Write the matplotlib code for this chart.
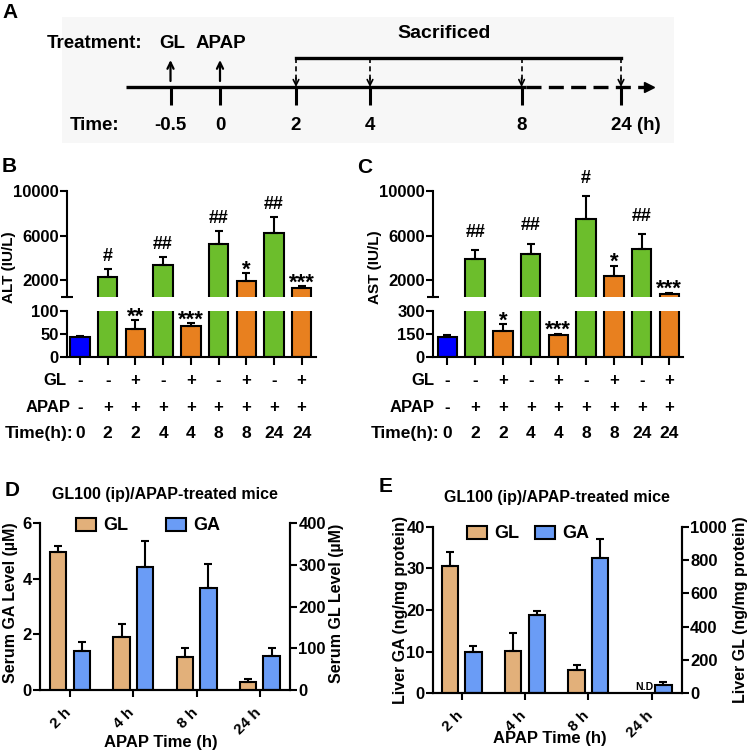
import numpy as np
import matplotlib
matplotlib.use('Agg')
import matplotlib.pyplot as plt
from matplotlib.patches import Rectangle
from matplotlib.transforms import blended_transform_factory, ScaledTranslation

plt.rcParams['font.family'] = ['Liberation Sans', 'DejaVu Sans']
plt.rcParams['font.weight'] = 'bold'
plt.rcParams['axes.labelweight'] = 'bold'
plt.rcParams['axes.titleweight'] = 'bold'
plt.rcParams['axes.linewidth'] = 1.5

# ---------------- data ----------------
timeline_labels = ['-0.5', '0', '2', '4', '8', '24']

groups = ['ctrl', 'apap', 'gl', 'apap', 'gl', 'apap', 'gl', 'apap', 'gl']
gl_signs = ['-', '-', '+', '-', '+', '-', '+', '-', '+']
apap_signs = ['-', '+', '+', '+', '+', '+', '+', '+', '+']
time_labels = ['0', '2', '2', '4', '4', '8', '8', '24', '24']

alt_mean = [42, 2330, 61, 3360, 66, 5260, 1910, 6240, 1320]
alt_err = [2, 710, 19, 710, 8, 1185, 750, 1390, 230]
alt_marks = ['', '#', '**', '##', '***', '##', '*', '##', '***']

ast_mean = [126, 3870, 168, 4340, 140, 7480, 2440, 4840, 790]
ast_err = [17, 830, 43, 950, 10, 2075, 890, 1300, 90]
ast_marks = ['', '##', '*', '##', '***', '#', '*', '##', '***']

level_times = ['2 h', '4 h', '8 h', '24 h']
serum_gl = [330, 128, 78, 18]
serum_gl_err = [16, 30, 22, 9]
serum_ga = [1.40, 4.44, 3.68, 1.24]
serum_ga_err = [0.32, 0.94, 0.84, 0.26]

liver_gl = [766, 254, 140, np.nan]
liver_gl_err = [84, 108, 32, np.nan]
liver_ga = [9.8, 18.8, 32.6, 2.0]
liver_ga_err = [1.5, 1.0, 4.5, 0.7]

# ---------------- styles ----------------
group_color = {'ctrl': '#0000FF', 'apap': '#6CBE2C', 'gl': '#E8801F'}
tan = '#E2B07A'
light_blue = '#6A9CF6'

W, H = 749, 756
fig = plt.figure(figsize=(W / 100, H / 100), dpi=100)


def rect(x0, y0, x1, y1):
    return [x0 / W, 1 - y1 / H, (x1 - x0) / W, (y1 - y0) / H]


def fx(px):
    return px / W


def fy(py):
    return 1 - py / H


def bold_ticks(ax):
    for lbl in ax.get_xticklabels() + ax.get_yticklabels():
        lbl.set_fontweight('bold')


# ---------------- panel A: timeline ----------------
axA = fig.add_axes([0, 0, 1, 1])
axA.set_xlim(0, W)
axA.set_ylim(H, 0)
axA.axis('off')
axA.patch.set_visible(False)
axA.add_patch(Rectangle((62, 17), 612, 126, facecolor='#f7f7f7', edgecolor='none', zorder=0))
tl_pos = [170.5, 220, 296, 370, 521.6, 621]
line_y = 87.3
axA.plot([125.6, 525.5], [line_y, line_y], color='k', lw=2.4, solid_capstyle='butt')
axA.plot([525.5, 644], [line_y, line_y], color='k', lw=2.4, dashes=(4.5, 2.2))
axA.plot([649], [line_y], marker='>', color='k', markersize=7)
for x in tl_pos:
    axA.plot([x, x], [line_y, 105], color='k', lw=2.2, solid_capstyle='butt')
for x, t in zip(tl_pos[:-1], timeline_labels[:-1]):
    axA.text(x, 125, t, ha='center', va='center', fontsize=13.5)
axA.text(611, 125, timeline_labels[-1] + ' (h)', ha='left', va='center', fontsize=13.5)
axA.text(119, 125, 'Time:', ha='right', va='center', fontsize=13.5)
axA.text(94.5, 43, 'Treatment:', ha='center', va='center', fontsize=13.5)
axA.text(172, 43, 'GL', ha='center', va='center', fontsize=13.5)
axA.text(221, 43, 'APAP', ha='center', va='center', fontsize=13.5)
axA.text(444, 33, 'Sacrificed', ha='center', va='center', fontsize=14)
for x in tl_pos[:2]:
    axA.annotate('', xy=(x, 60), xytext=(x, 81),
                 arrowprops=dict(arrowstyle='->,head_length=0.45,head_width=0.22', lw=1.6,
                                 color='k', shrinkA=0, shrinkB=0))
axA.plot([tl_pos[2], tl_pos[-1]], [58.3, 58.3], color='k', lw=2.4, solid_capstyle='projecting')
for x in tl_pos[2:]:
    axA.plot([x, x], [58.3, 80], color='k', lw=1.2, dashes=(3, 2))
    axA.annotate('', xy=(x, 87), xytext=(x, 78),
                 arrowprops=dict(arrowstyle='->,head_length=0.4,head_width=0.2', lw=1.2,
                                 color='k', shrinkA=0, shrinkB=0))

# ---------------- panels B, C: broken-axis bar charts ----------------
colors = [group_color[g] for g in groups]


def enzyme_panel(xl, xr, xlim, means, errs, marks, low_max, low_ticks, ylabel, ylab_x,
                 lab_right, hash_off, star_off):
    n = len(means)
    x = np.arange(n)
    ax_hi = fig.add_axes(rect(xl, 190.7, xr, 297.3))
    ax_lo = fig.add_axes(rect(xl, 310.7, xr, 356.7))
    for ax in (ax_hi, ax_lo):
        ax.bar(x, means, width=0.7, color=colors, edgecolor='k', linewidth=1.5, zorder=2)
        ax.errorbar(x, means, yerr=[np.zeros(n), errs], fmt='none', ecolor='k',
                    elinewidth=1.5, capsize=3, capthick=1.5, zorder=3)
        ax.set_xlim(*xlim)
        ax.spines[['top', 'right']].set_visible(False)
        ax.patch.set_visible(False)
        ax.tick_params(width=1.5, length=5, labelsize=12, pad=1)
    ax_hi.set_ylim(500, 10000)
    ax_hi.spines['bottom'].set_visible(False)
    ax_hi.set_xticks([])
    ax_hi.set_yticks([2000, 6000, 10000])
    ax_hi.set_yticks([500], minor=True)
    ax_hi.tick_params(axis='y', which='minor', direction='inout', length=9, width=1.5)
    ax_lo.set_ylim(0, low_max)
    ax_lo.set_yticks(low_ticks)
    ax_lo.set_xticks(x)
    ax_lo.set_xticklabels([])
    ax_lo.tick_params(axis='x', length=6)
    bold_ticks(ax_hi)
    bold_ticks(ax_lo)

    for xi, m, e, mk in zip(x, means, errs, marks):
        if not mk:
            continue
        top = m + e
        ax = ax_hi if top > low_max else ax_lo
        star = mk.startswith('*')
        ax.annotate(mk, xy=(xi, top), xytext=(0, star_off if star else hash_off),
                    textcoords='offset points', ha='center', va='baseline',
                    fontsize=16 if star else 13, annotation_clip=False)

    ax_hi.set_ylabel(ylabel, fontsize=11)
    ax_hi.yaxis.set_label_coords(fx(ylab_x), fy(267), transform=fig.transFigure)
    ax_hi.yaxis.label.set_va('center')
    ax_hi.yaxis.label.set_ha('center')

    tr = blended_transform_factory(ax_lo.transData, fig.transFigure)
    for xi, g, a, t in zip(x, gl_signs, apap_signs, time_labels):
        ax_lo.text(xi, fy(385), g, transform=tr, ha='center', va='baseline', fontsize=12)
        ax_lo.text(xi, fy(412.3), a, transform=tr, ha='center', va='baseline', fontsize=12)
        ax_lo.text(xi, fy(437.7), t, transform=tr, ha='center', va='baseline', fontsize=12.5)
    fig.text(fx(lab_right[0]), fy(385), 'GL', ha='right', va='baseline', fontsize=12)
    fig.text(fx(lab_right[1]), fy(412.3), 'APAP', ha='right', va='baseline', fontsize=12)
    fig.text(fx(lab_right[2]), fy(437.7), 'Time(h):', ha='right', va='baseline', fontsize=12.5)


enzyme_panel(67, 316, (-0.47, 8.52), alt_mean, alt_err, alt_marks, 100, [0, 50, 100],
             'ALT (IU/L)', 9, (67, 71, 73), 5.8, -2)
enzyme_panel(433, 683, (-0.52, 8.49), ast_mean, ast_err, ast_marks, 300, [0, 150, 300],
             'AST (IU/L)', 375, (435, 435, 439), 9.4, -1.5)

# ---------------- panels D, E: twin-axis bar charts ----------------


def level_panel(xl, xr, yt, yb, xlim, gl, gl_err, ga, ga_err, ga_lim, ga_ticks, gl_lim,
                gl_ticks, ylab_l, ylab_r, ylx_l, ylx_r, yl_y, xlab_xy, col_space, leg_xy,
                nd=False):
    pos = np.arange(len(level_times))
    off, wid = 0.186, 0.26
    ax = fig.add_axes(rect(xl, yt, xr, yb))
    ax2 = ax.twinx()
    b_gl = ax2.bar(pos - off, gl, width=wid, color=tan, edgecolor='k', linewidth=1.5,
                   label='GL', zorder=2)
    ax2.errorbar(pos - off, gl, yerr=[np.zeros(len(gl)), gl_err], fmt='none', ecolor='k',
                 elinewidth=1.5, capsize=3.2, capthick=1.5, zorder=3)
    b_ga = ax.bar(pos + off, ga, width=wid, color=light_blue, edgecolor='k', linewidth=1.5,
                  label='GA', zorder=2)
    ax.errorbar(pos + off, ga, yerr=[np.zeros(len(ga)), ga_err], fmt='none', ecolor='k',
                elinewidth=1.5, capsize=3.2, capthick=1.5, zorder=3)
    ax.set_xlim(*xlim)
    ax.set_ylim(0, ga_lim)
    ax.set_yticks(ga_ticks)
    ax2.set_ylim(0, gl_lim)
    ax2.set_yticks(gl_ticks)
    for a in (ax, ax2):
        a.spines['top'].set_visible(False)
        a.tick_params(width=1.5, length=5, labelsize=12, pad=1)
    ax.set_xticks(pos)
    ax.set_xticklabels(level_times, rotation=45, ha='right', va='top', rotation_mode='anchor',
                       fontsize=11)
    ax.tick_params(axis='x', pad=4.5)
    shift = ScaledTranslation(-0.06, -0.02, fig.dpi_scale_trans)
    for lbl in ax.get_xticklabels():
        lbl.set_transform(lbl.get_transform() + shift)
    bold_ticks(ax)
    bold_ticks(ax2)

    ax.set_ylabel(ylab_l, fontsize=11.5)
    ax.yaxis.set_label_coords(fx(ylx_l), fy(yl_y), transform=fig.transFigure)
    ax.yaxis.label.set_va('center')
    ax.yaxis.label.set_ha('center')
    ax2.set_ylabel(ylab_r, fontsize=11.5)
    ax2.yaxis.set_label_coords(fx(ylx_r), fy(yl_y), transform=fig.transFigure)
    ax2.yaxis.label.set_va('center')
    ax2.yaxis.label.set_ha('center')

    fig.text(fx(xlab_xy[0]), fy(xlab_xy[1]), 'APAP Time (h)', ha='center', va='center',
             fontsize=12, fontweight='bold')

    ax.set_title('GL100 (ip)/APAP-treated mice', fontsize=11.5, pad=17.5)

    ax2.legend([b_gl, b_ga], ['GL', 'GA'], loc='center left',
               bbox_to_anchor=(fx(leg_xy[0]), fy(leg_xy[1])), bbox_transform=fig.transFigure,
               ncol=2, frameon=False, fontsize=13, handlelength=1.1, handleheight=0.7,
               handletextpad=0.4, columnspacing=col_space, borderpad=0, borderaxespad=0)
    if nd:
        ax2.annotate('N.D', xy=(pos[-1] - off, 0), xytext=(3, 2.7), textcoords='offset points',
                     ha='center', va='baseline', fontsize=7.5)
    return ax, ax2


level_panel(40, 290, 523.3, 690, (-0.474, 3.475), serum_gl, serum_gl_err, serum_ga,
            serum_ga_err, 6, [0, 2, 4, 6], 400, [0, 100, 200, 300, 400],
            'Serum GA Level (µM)', 'Serum GL Level (µM)', 11, 336, 603, (161, 743),
            2.1, (76, 526))
level_panel(433, 681.7, 526.7, 693.3, (-0.453, 3.474), liver_gl, liver_gl_err, liver_ga,
            liver_ga_err, 40, [0, 10, 20, 30, 40], 1000, [0, 200, 400, 600, 800, 1000],
            'Liver GA (ng/mg protein)', 'Liver GL (ng/mg protein)', 400, 741, 610, (550, 738),
            0.9, (467, 534), nd=True)

# ---------------- panel letters ----------------
for lab, (px, py) in zip('ABCDE', [(10, 12.5), (9, 166.5), (365, 167.5), (12, 490), (386, 487)]):
    fig.text(fx(px), fy(py), lab, ha='center', va='center', fontsize=15)

fig.savefig('out.png', dpi=100)
